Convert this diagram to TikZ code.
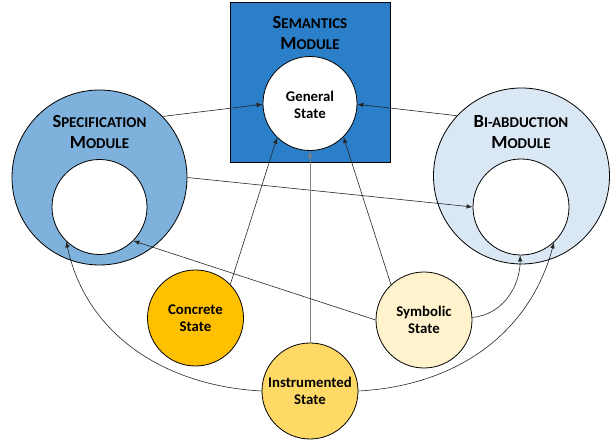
\documentclass[tikz,border=0pt]{standalone}
\usepackage{fontspec}
\setmainfont{Carlito}
\usetikzlibrary{arrows.meta}
\definecolor{semblue}{RGB}{42,127,200}
\definecolor{specblue}{RGB}{126,178,220}
\definecolor{biblue}{RGB}{218,232,245}
\definecolor{concrete}{RGB}{255,192,0}
\definecolor{instr}{RGB}{255,217,102}
\definecolor{symb}{RGB}{255,242,204}
\newcommand{\fakesc}[2]{{\fontsize{18.5}{21}\selectfont #1}{\fontsize{15}{21}\selectfont #2}}
\tikzset{
  ring/.style={circle, draw=black, line width=0.8pt, inner sep=0pt},
  statelbl/.style={align=center, font=\bfseries\fontsize{14.8}{17}\selectfont},
  titlelbl/.style={align=center, font=\bfseries\fontsize{15}{21}\selectfont},
  conn/.style={draw=black!85, line width=0.6pt, -{Latex[length=6pt,width=4.5pt]}},
}
\begin{document}
\begin{tikzpicture}[x=1pt,y=1pt]
\useasboundingbox (0,0) rectangle (614,443);
% semantics module
\node[draw=black, line width=0.8pt, fill=semblue, minimum width=160pt, minimum height=160pt, inner sep=0pt] (sem) at (310,361) {};
\node[titlelbl] (semt) at (310,410.5) {\fakesc{S}{EMANTICS}\\\fakesc{M}{ODULE}};
\node[ring, fill=white, minimum size=94pt] (gen) at (310,339.5) {};
\node[statelbl] (gent) at (310,338) {General\\State};
% specification module
\node[ring, fill=specblue, minimum size=175pt] (speco) at (99.5,265.5) {};
\node[titlelbl] (spect) at (99.5,311.5) {\fakesc{S}{PECIFICATION}\\\fakesc{M}{ODULE}};
\node[ring, fill=white, minimum size=95pt] (speci) at (99.5,236) {};
% bi-abduction module
\node[ring, fill=biblue, minimum size=176pt] (bio) at (521.5,267) {};
\node[titlelbl] (bit) at (521,310.5) {\fakesc{B}{I-ABDUCTION}\\\fakesc{M}{ODULE}};
\node[ring, fill=white, minimum size=96pt] (bii) at (521,236) {};
% states
\node[ring, fill=concrete, minimum size=96pt] (con) at (195.5,125) {};
\node[statelbl] (cont) at (195.5,125) {Concrete\\State};
\node[ring, fill=instr, minimum size=96pt] (ins) at (310,52) {};
\node[statelbl] (inst) at (310,52) {Instrumented\\State};
\node[ring, fill=symb, minimum size=96pt] (sym) at (424,123) {};
\node[statelbl] (symt) at (424,123) {Symbolic\\State};
% connectors
\draw[conn] (speco.44) -- (gen.181);
\draw[conn] (bio.137) -- (gen.-1);
\draw[conn] (speco.0) -- (bii.180);
\draw[conn] (con.44) -- (gen.226);
\draw[conn, draw=gray, line width=1pt] (ins.north) -- (gen.south);
\draw[conn] (sym.133) -- (gen.-45);
\draw[conn] (sym.180) -- (speci.-45);
\draw[conn] (sym.3) to[out=5, in=-90] (bii.269);
\draw[conn] (ins.0) to[out=3, in=-105] (bii.-47);
\draw[conn] (ins.180) to[out=177, in=-78] (speci.-134);
\end{tikzpicture}
\end{document}
